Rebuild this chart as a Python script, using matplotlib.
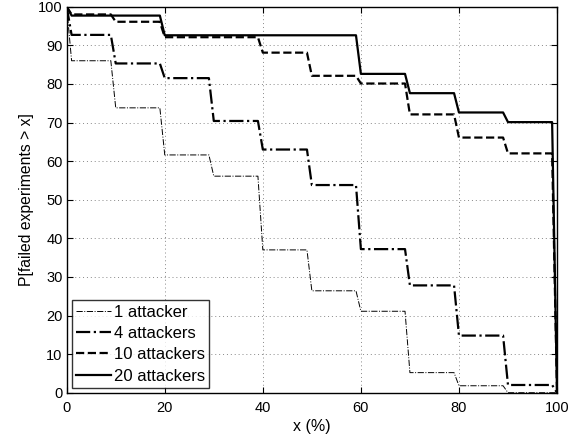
import numpy as np
import matplotlib.pyplot as plt

plt.rcParams['font.family'] = ['Liberation Sans', 'DejaVu Sans']

# level of each curve on the intervals x in [1,9], [10,19], ..., [90,99]; 100 at x=0, value at x=100
decades = [0, 10, 20, 30, 40, 50, 60, 70, 80, 90]
one_attacker = [86.0, 73.8, 61.6, 56.1, 37.0, 26.4, 21.1, 5.2, 1.8, 0.0]
four_attackers = [92.7, 85.3, 81.5, 70.4, 63.0, 53.8, 37.2, 27.8, 14.8, 2.0]
ten_attackers = [98.0, 96.1, 92.1, 92.1, 88.1, 82.1, 80.1, 72.1, 66.1, 62.0]
twenty_attackers = [97.7, 97.7, 92.6, 92.6, 92.6, 92.6, 82.6, 77.6, 72.6, 70.1]
start_value = 100.0
end_value = 0.0


def step_path(levels):
    # curve is sampled at integer x, so each drop spans one unit
    xs = [0]
    ys = [start_value]
    for d, lev in zip(decades, levels):
        xs += [max(d, 1), d + 9]
        ys += [lev, lev]
    xs.append(100)
    ys.append(end_value)
    return np.array(xs), np.array(ys)


fig = plt.figure(figsize=(5.84, 4.36), dpi=100)
ax = fig.add_axes([0.1142, 0.0993, 0.8396, 0.8853])

x, y = step_path(one_attacker)
ax.plot(x, y, color='black', linestyle='-.', linewidth=0.7, label='1 attacker')
x, y = step_path(four_attackers)
ax.plot(x, y, color='black', linestyle='-.', linewidth=1.6, label='4 attackers')
x, y = step_path(ten_attackers)
ax.plot(x, y, color='black', linestyle='--', linewidth=1.6, label='10 attackers')
x, y = step_path(twenty_attackers)
ax.plot(x, y, color='black', linestyle='-', linewidth=1.6, label='20 attackers')

ax.set_xlim(0, 100)
ax.set_ylim(0, 100)
ax.set_xticks(range(0, 101, 20))
ax.set_yticks(range(0, 101, 10))
ax.tick_params(direction='in', top=True, right=True, labelsize=10.5, length=4)
ax.tick_params(axis='x', pad=6)
ax.tick_params(axis='y', pad=3)
ax.grid(True, linestyle=(0, (1, 3)), color='#888888', linewidth=0.7)
for s in ax.spines.values():
    s.set_linewidth(1.0)
    s.set_color('black')

ax.set_xlabel('x (%)', fontsize=11.5, labelpad=3)
ax.set_ylabel('P[failed experiments > x]', fontsize=11.3, labelpad=3)

leg = ax.legend(loc='lower left', fontsize=12, handlelength=2.1, frameon=True,
                fancybox=False, edgecolor='black', borderaxespad=0.3,
                labelspacing=0.38, borderpad=0.25, handletextpad=0.2)
leg.get_frame().set_linewidth(1.0)

fig.savefig('out.png', dpi=100)
